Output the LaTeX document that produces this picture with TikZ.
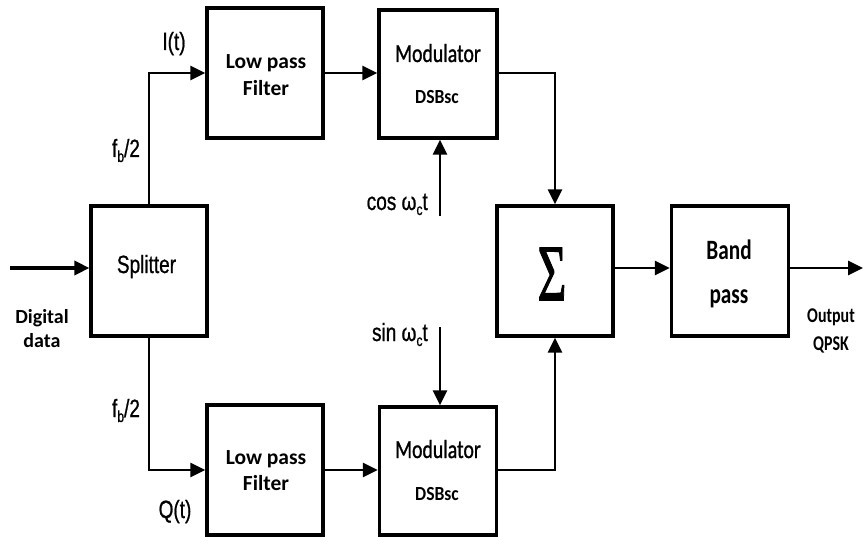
\documentclass[tikz,border=0pt]{standalone}
\usepackage{fontspec}
\usepackage{graphicx}
\usetikzlibrary{arrows.meta}
\newfontfamily\labfont[FakeStretch=0.76,FakeBold=0.8]{Liberation Sans}
\newfontfamily\calfont{Carlito}
\newfontfamily\calnarrow[FakeStretch=0.76]{Carlito}
\newfontfamily\calmod[FakeStretch=0.76,FakeBold=1]{Carlito}
\newfontfamily\caldsb[FakeStretch=0.88]{Carlito}
\newfontfamily\sigfont[FakeBold=1.5]{Liberation Serif}
\newcommand\lowsub[1]{\raisebox{-5pt}{\fontsize{16}{16}\selectfont #1}}
\begin{document}
\begin{tikzpicture}[x=1pt,y=-1pt,
  blk/.style={draw, line width=3.2pt, minimum width=116pt, minimum height=130pt, inner sep=0pt},
  conn/.style={line width=2.7pt, -{Triangle[length=15pt,width=14pt]}},
  lbl/.style={font=\labfont\fontsize{25}{28}\selectfont, inner sep=0pt, anchor=base},
  btxt/.style={font=\calfont\bfseries\fontsize{21.5}{26}\selectfont, inner sep=0pt, anchor=base},
  modtxt/.style={font=\calmod\fontsize{26}{28}\selectfont, inner sep=0pt, anchor=base},
  dsbtxt/.style={font=\caldsb\bfseries\fontsize{20}{22}\selectfont, inner sep=0pt, anchor=base},
  bptxt/.style={font=\calnarrow\bfseries\fontsize{28}{30}\selectfont, inner sep=0pt, anchor=base},
  iotxt/.style={font=\calfont\bfseries\fontsize{20}{22}\selectfont, inner sep=0pt, anchor=base},
  outtxt/.style={font=\calnarrow\bfseries\fontsize{21}{22}\selectfont, inner sep=0pt, anchor=base}
]
\useasboundingbox (0,0) rectangle (864,537);
\fill[white] (0,0) rectangle (864,537);

% blocks
\node[blk] (split) at (149,271) {};
\node[blk] (lpf1) at (265,73) {};
\node[blk, minimum width=118pt, minimum height=128pt] (mod1) at (438,74) {};
\node[blk] (sigma) at (555,271) {};
\node[blk, minimum width=117pt] (bp) at (730,271) {};
\node[blk] (lpf2) at (265,470) {};
\node[blk, minimum width=117pt, minimum height=128pt] (mod2) at (438,471) {};

% block texts
\node[lbl] (splitt) at (146.5,273) {Splitter};
\node[btxt] (lpf1a) at (266,69) {Low pass};
\node[btxt] (lpf1b) at (266,96) {Filter};
\node[btxt] (lpf2a) at (266,464) {Low pass};
\node[btxt] (lpf2b) at (266,490) {Filter};
\node[modtxt] (mod1a) at (438,62) {Modulator};
\node[dsbtxt] (mod1b) at (437,104) {DSBsc};
\node[modtxt] (mod2a) at (438,458) {Modulator};
\node[dsbtxt] (mod2b) at (437,500) {DSBsc};
\node[inner sep=0pt] (sigt) at (552,274) {\scalebox{0.62}[1]{\sigfont\fontsize{80}{80}\selectfont Σ}};
\node[bptxt] (bpa) at (729,260) {Band};
\node[bptxt] (bpb) at (729,303) {pass};

% outside labels
\node[iotxt] (dig1) at (42,323) {Digital};
\node[iotxt] (dig2) at (42,347) {data};
\node[outtxt] (out1) at (831,322) {Output};
\node[outtxt] (out2) at (831,350) {QPSK};
\node[lbl] (it) at (174,50) {I(t)};
\node[lbl] (qt) at (175,518) {Q(t)};
\node[lbl] (fb1) at (126,157) {f\lowsub{b}/2};
\node[lbl] (fb2) at (126,417) {f\lowsub{b}/2};
\node[lbl, anchor=base east] (cosl) at (428,210) {cos ω\lowsub{c}t};
\node[lbl, anchor=base east] (sinl) at (428,341) {sin ω\lowsub{c}t};

% free ends
\coordinate (in) at (10,268);
\coordinate (out) at (863,268);
\coordinate (cosin) at (440,216);
\coordinate (sinin) at (440,327);

% connectors
\draw[conn, line width=3.5pt] (in) -- (in -| split.west);
\draw[conn] (split.north) |- (lpf1.west);
\draw[conn] (split.south) |- (lpf2.west);
\draw[conn] (lpf1.east) -- (mod1.west |- lpf1.east);
\draw[conn] (lpf2.east) -- (mod2.west |- lpf2.east);
\draw[conn] (cosin) -- (cosin |- mod1.south);
\draw[conn] (sinin) -- (sinin |- mod2.north);
\draw[conn] (mod1.east |- lpf1.east) -| (sigma.north);
\draw[conn] (mod2.east |- lpf2.east) -| (sigma.south);
\draw[conn] (sigma.east |- in) -- (bp.west |- in);
\draw[conn] (bp.east |- in) -- (out);
\end{tikzpicture}
\end{document}
